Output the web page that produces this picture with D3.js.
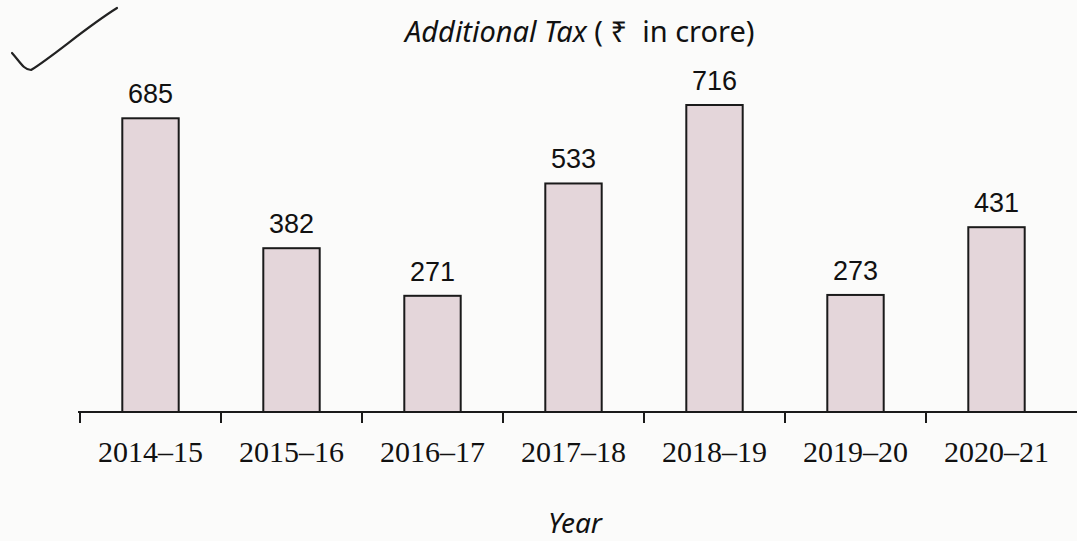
<!DOCTYPE html>
<html>
<head>
<meta charset="utf-8">
<script src="https://cdn.jsdelivr.net/npm/d3@7"></script>
<style>
  body { margin: 0; background: #fbfbfa; }
  svg { display: block; }
</style>
</head>
<body>
<svg id="chart" width="1077" height="541"></svg>
<script>
// data
var years = ["2014–15", "2015–16", "2016–17", "2017–18", "2018–19", "2019–20", "2020–21"];
var taxValues = [685, 382, 271, 533, 716, 273, 431];

var svg = d3.select("#chart");
var svgWidth = +svg.attr("width");
var svgHeight = +svg.attr("height");

var baseY = 412;

// scales
var x = d3.scaleBand()
  .domain(years)
  .range([80, 1067])
  .paddingInner(0.6)
  .paddingOuter(0.3);

var y = d3.scaleLinear()
  .domain([0, d3.max(taxValues)])
  .range([baseY, 105]);

// bars
svg.selectAll("rect.bar")
  .data(years)
  .enter().append("rect")
  .attr("class", "bar")
  .attr("x", d => x(d))
  .attr("y", (d, i) => y(taxValues[i]))
  .attr("width", x.bandwidth())
  .attr("height", (d, i) => baseY - y(taxValues[i]))
  .attr("fill", "#e4d6da")
  .attr("stroke", "#1a1a1a")
  .attr("stroke-width", 2);

// value labels
svg.selectAll("text.value")
  .data(years)
  .enter().append("text")
  .attr("class", "value")
  .attr("x", d => x(d) + x.bandwidth() / 2)
  .attr("y", (d, i) => y(taxValues[i]) - 15)
  .attr("text-anchor", "middle")
  .attr("font-family", "Liberation Sans, Arial, sans-serif")
  .attr("font-size", "27px")
  .attr("fill", "#111")
  .text((d, i) => taxValues[i]);

// x axis (labels only, ticks drawn at band edges)
var xAxis = d3.axisBottom(x).tickSize(0).tickPadding(0);
var axisG = svg.append("g")
  .attr("class", "bottom axis")
  .attr("transform", "translate(0," + baseY + ")")
  .call(xAxis);
axisG.select(".domain").remove();
axisG.selectAll("text")
  .attr("dy", null)
  .attr("y", 50)
  .attr("font-family", "Liberation Serif, Times New Roman, serif")
  .attr("font-size", "30px")
  .attr("fill", "#111");

// axis line
svg.append("line")
  .attr("x1", 78)
  .attr("x2", svgWidth)
  .attr("y1", baseY)
  .attr("y2", baseY)
  .attr("stroke", "#1a1a1a")
  .attr("stroke-width", 2);

// tick marks at the left edge of each band
var gap = (x.step() - x.bandwidth()) / 2;
svg.selectAll("line.tick")
  .data(years)
  .enter().append("line")
  .attr("class", "tick")
  .attr("x1", d => x(d) - gap)
  .attr("x2", d => x(d) - gap)
  .attr("y1", baseY)
  .attr("y2", baseY + 11)
  .attr("stroke", "#1a1a1a")
  .attr("stroke-width", 2);

// title
var title = svg.append("text")
  .attr("x", 405)
  .attr("y", 42)
  .attr("font-family", "Noto Sans, sans-serif")
  .attr("font-size", "29px")
  .attr("fill", "#111");
title.append("tspan").attr("font-style", "italic").text("Additional Tax");
title.append("tspan").text(" (\u00a0₹\u00a0\u00a0in crore)");

// x label
svg.append("text")
  .attr("x", 575)
  .attr("y", 533)
  .attr("text-anchor", "middle")
  .attr("font-family", "Noto Sans, sans-serif")
  .attr("font-style", "italic")
  .attr("font-size", "28px")
  .attr("fill", "#111")
  .text("Year");

// check mark
svg.append("path")
  .attr("d", "M12,53 C20,62 24,70 31,70 C55,55 85,28 117,8")
  .attr("fill", "none")
  .attr("stroke", "#222")
  .attr("stroke-width", 2.2)
  .attr("stroke-linecap", "round");
</script>
</body>
</html>
